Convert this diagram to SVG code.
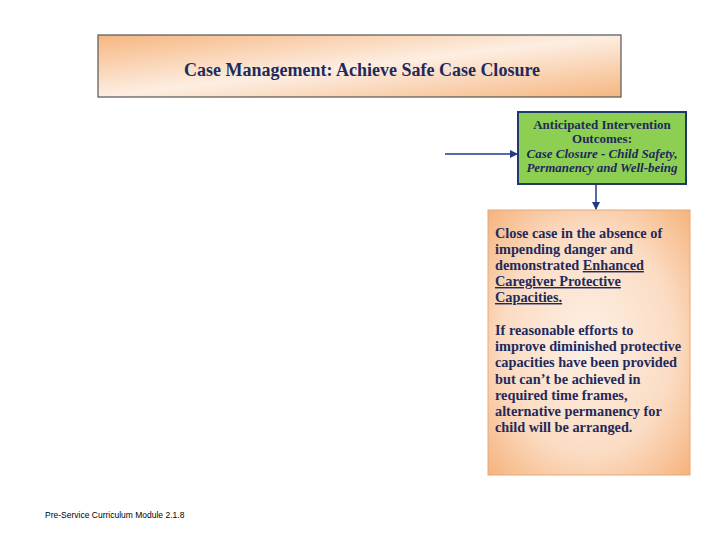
<svg xmlns="http://www.w3.org/2000/svg" width="720" height="540" viewBox="0 0 720 540">
<style>
.t{font-family:"Liberation Serif",serif;font-weight:bold;fill:#1f2a5c}
.b{font-family:"Liberation Serif",serif;font-weight:bold;fill:#1f2a5c;font-size:13px}
.c{stroke:#1f3a8a;stroke-width:1.5;fill:none}
</style>
<defs>
<linearGradient id="g1" x1="0" y1="0" x2="1" y2="1">
<stop offset="0" stop-color="#f6b680"/><stop offset="0.5" stop-color="#fdeee2"/><stop offset="1" stop-color="#f6b680"/>
</linearGradient>
<radialGradient id="g2" cx="0.5" cy="0.5" r="0.7">
<stop offset="0" stop-color="#fdf0e6"/><stop offset="0.6" stop-color="#fbdcc3"/><stop offset="1" stop-color="#f5b47e"/>
</radialGradient>
<marker id="a" markerWidth="8" markerHeight="8" refX="7" refY="4" orient="auto" markerUnits="userSpaceOnUse"><path d="M0,0 L8,4 L0,8 z" fill="#1f3a8a"/></marker>
</defs>
<g id="title">
<rect x="98" y="35" width="523" height="62" fill="url(#g1)" stroke="#555" stroke-width="1.2"/>
<text class="t" x="362" y="76" font-size="18" text-anchor="middle">Case Management: Achieve Safe Case Closure</text>
</g>
<g id="outcomes">
<rect x="518" y="112" width="168" height="72" fill="#8dcf52" stroke="#1f3a6a" stroke-width="2"/>
<text class="b" text-anchor="middle"><tspan x="602" y="129">Anticipated Intervention</tspan><tspan x="602" y="143">Outcomes:</tspan><tspan x="602" y="158" font-style="italic">Case Closure - Child Safety,</tspan><tspan x="602" y="172" font-style="italic">Permanency and Well-being</tspan></text>
</g>
<g id="closure">
<rect x="488" y="210" width="202" height="265" fill="url(#g2)" stroke="#e8a878" stroke-width="1"/>
<text class="b" style="font-size:14.3px"><tspan x="495" y="238">Close case in the absence of</tspan><tspan x="495" y="254">impending danger and</tspan><tspan x="495" y="270">demonstrated <tspan text-decoration="underline">Enhanced</tspan></tspan><tspan x="495" y="286" text-decoration="underline">Caregiver Protective</tspan><tspan x="495" y="302" text-decoration="underline">Capacities.</tspan><tspan x="495" y="335">If reasonable efforts to</tspan><tspan x="495" y="351">improve diminished protective</tspan><tspan x="495" y="367">capacities have been provided</tspan><tspan x="495" y="384">but can’t be achieved in</tspan><tspan x="495" y="400">required time frames,</tspan><tspan x="495" y="416">alternative permanency for</tspan><tspan x="495" y="432">child will be arranged.</tspan></text>
</g>
<g id="connectors">
<line class="c" x1="445" y1="154" x2="517" y2="154" marker-end="url(#a)"/>
<line class="c" x1="596" y1="185" x2="596" y2="209" marker-end="url(#a)"/>
</g>
<text x="45" y="518" font-family="Liberation Sans,sans-serif" font-size="8.5" fill="#000">Pre-Service Curriculum Module 2.1.8</text>
</svg>
